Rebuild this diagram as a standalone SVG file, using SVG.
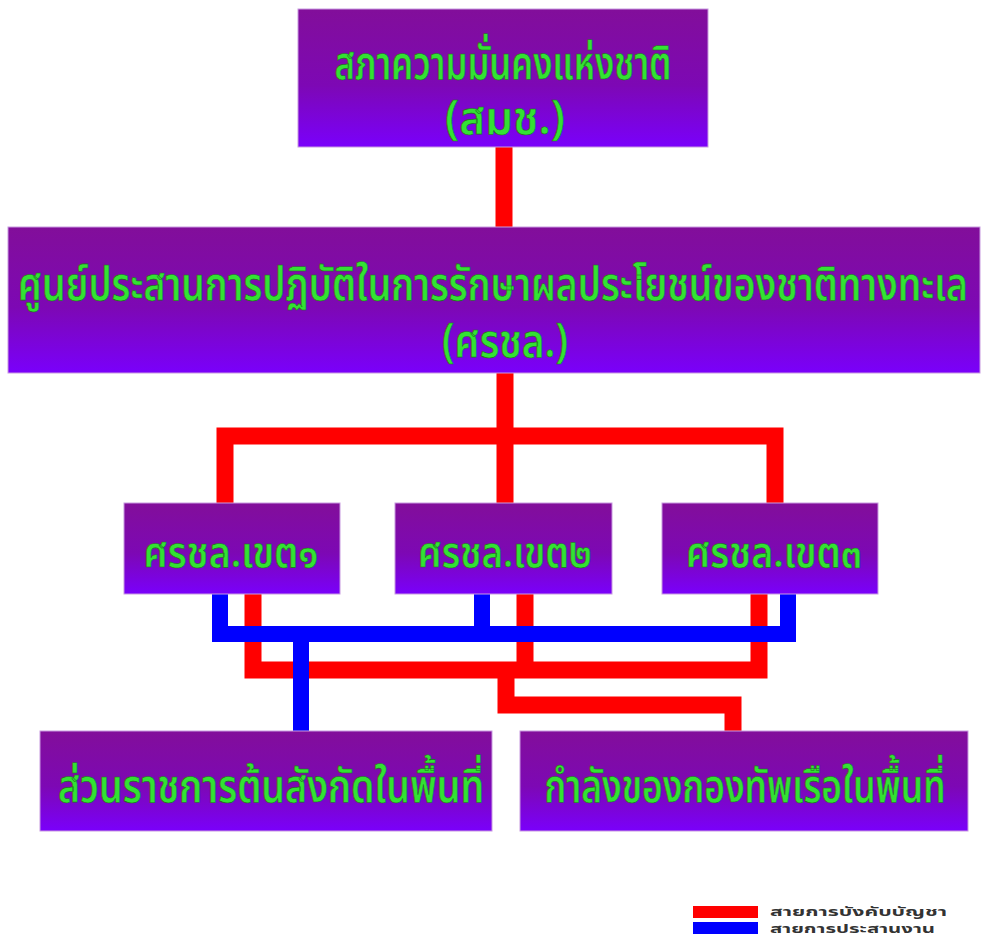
<svg xmlns="http://www.w3.org/2000/svg" width="985" height="943" viewBox="0 0 985 943">
<defs>
<linearGradient id="bg" x1="0" y1="0" x2="0" y2="1">
<stop offset="0" stop-color="#820e9a"/>
<stop offset="0.55" stop-color="#7d08b4"/>
<stop offset="1" stop-color="#7a00fb"/>
</linearGradient>
</defs>
<style>
.box{fill:url(#bg);stroke:#c89ae0;stroke-width:1}
.t{font-family:"Noto Sans Thai","Noto Sans","DejaVu Sans",sans-serif;font-weight:600;fill:#33e233;stroke:#1c6b1c;stroke-width:0.6;text-anchor:middle}
.red{stroke:#ff0000;stroke-width:17;fill:none;stroke-linejoin:miter;stroke-linecap:butt}
.blue{stroke:#0000ff;stroke-width:16;fill:none;stroke-linejoin:miter;stroke-linecap:butt}
.lg{font-family:"Noto Sans Thai","Noto Sans","DejaVu Sans",sans-serif;font-size:12px;fill:#333;font-weight:bold}
</style>
<rect width="985" height="943" fill="#ffffff"/>
<g id="connectors">
<path class="red" d="M504 147V228"/>
<path class="red" d="M505 373V436M225 503V436H775V503M505 436V503"/>
<path class="red" d="M253 594V670H759V594M525 594V670"/>
<path class="red" d="M506 670V705H733V732"/>
<path class="blue" d="M220 594V634H788V594M482 594V634M301 634V732"/>
</g>
<g id="node-nsc">
<rect class="box" x="298" y="9" width="410" height="138"/>
<text class="t" x="503" y="79" font-size="46" textLength="337" lengthAdjust="spacingAndGlyphs">สภาความมั่นคงแห่งชาติ</text>
<text class="t" x="505" y="134" font-size="46" textLength="120" lengthAdjust="spacingAndGlyphs">(สมช.)</text>
</g>
<g id="node-thaimecc">
<rect class="box" x="8" y="227" width="972" height="146"/>
<text class="t" x="493" y="300" font-size="46" textLength="950" lengthAdjust="spacingAndGlyphs">ศูนย์ประสานการปฏิบัติในการรักษาผลประโยชน์ของชาติทางทะเล</text>
<text class="t" x="505" y="357" font-size="46" textLength="126" lengthAdjust="spacingAndGlyphs">(ศรชล.)</text>
</g>
<g id="node-zone1">
<rect class="box" x="124" y="503" width="216" height="91"/>
<text class="t" x="231" y="567" font-size="42" textLength="175" lengthAdjust="spacingAndGlyphs">ศรชล.เขต๑</text>
</g>
<g id="node-zone2">
<rect class="box" x="395" y="503" width="217" height="91"/>
<text class="t" x="505" y="567" font-size="42" textLength="174" lengthAdjust="spacingAndGlyphs">ศรชล.เขต๒</text>
</g>
<g id="node-zone3">
<rect class="box" x="662" y="503" width="216" height="91"/>
<text class="t" x="774" y="567" font-size="42" textLength="176" lengthAdjust="spacingAndGlyphs">ศรชล.เขต๓</text>
</g>
<g id="node-agencies">
<rect class="box" x="40" y="731" width="452" height="100"/>
<text class="t" x="271" y="802" font-size="46" textLength="426" lengthAdjust="spacingAndGlyphs">ส่วนราชการต้นสังกัดในพื้นที่</text>
</g>
<g id="node-navy">
<rect class="box" x="520" y="731" width="448" height="100"/>
<text class="t" x="745" y="802" font-size="46" textLength="401" lengthAdjust="spacingAndGlyphs">กำลังของกองทัพเรือในพื้นที่</text>
</g>
<g id="legend">
<rect x="693" y="906" width="65" height="12" fill="#ff0000"/>
<rect x="693" y="922" width="65" height="12" fill="#0000ff"/>
<text class="lg" x="770" y="916" textLength="177" lengthAdjust="spacingAndGlyphs">สายการบังคับบัญชา</text>
<text class="lg" x="770" y="933" textLength="165" lengthAdjust="spacingAndGlyphs">สายการประสานงาน</text>
</g>
</svg>
